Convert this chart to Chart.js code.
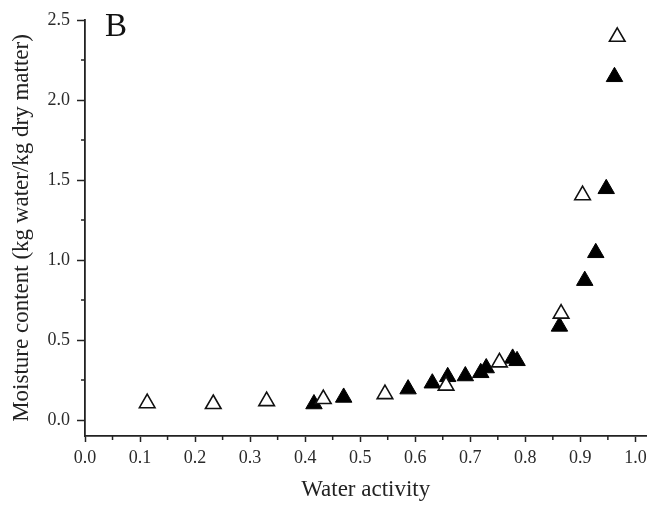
<!DOCTYPE html>
<html>
<head>
<meta charset="utf-8">
<script src="https://cdn.jsdelivr.net/npm/chart.js@4"></script>
<style>
  html, body { margin: 0; padding: 0; background: #fff; overflow: hidden; }
  #wrap { width: 657px; height: 508px; }
</style>
</head>
<body>
<div id="wrap"><canvas id="chart"></canvas></div>
<script>
// open triangles
const openX = [0.113, 0.233, 0.330, 0.433, 0.545, 0.656, 0.753, 0.865, 0.904, 0.967];
const openY = [0.105, 0.100, 0.118, 0.131, 0.162, 0.215, 0.360, 0.665, 1.405, 2.395];
// filled triangles
const fillX = [0.416, 0.470, 0.587, 0.631, 0.659, 0.691, 0.719, 0.729, 0.777, 0.785, 0.862, 0.908, 0.928, 0.947, 0.962];
const fillY = [0.100, 0.141, 0.193, 0.230, 0.270, 0.275, 0.295, 0.325, 0.385, 0.370, 0.585, 0.871, 1.045, 1.445, 2.145];

const xTicks = [0, 0.1, 0.2, 0.3, 0.4, 0.5, 0.6, 0.7, 0.8, 0.9, 1.0];
const xMinor = [0.05, 0.15, 0.25, 0.35, 0.45, 0.55, 0.65, 0.75, 0.85, 0.95];
const yTicks = [0, 0.5, 1.0, 1.5, 2.0, 2.5];
const yMinor = [0.25, 0.75, 1.25, 1.75, 2.25];

const pts = (xs, ys) => xs.map((x, i) => ({ x: x, y: ys[i] }));

const axisColor = '#222';
const font = 'Liberation Serif';

// petits traits secondaires + lettre du panneau
const extras = {
  id: 'extras',
  afterDraw(chart) {
    const ctx = chart.ctx;
    const xs = chart.scales.x, ys = chart.scales.y;
    const area = chart.chartArea;
    ctx.save();
    ctx.strokeStyle = axisColor;
    ctx.lineWidth = 1.5;
    ctx.beginPath();
    xMinor.forEach(v => {
      const px = xs.getPixelForValue(v);
      ctx.moveTo(px, area.bottom);
      ctx.lineTo(px, area.bottom + 4);
    });
    yMinor.forEach(v => {
      const py = ys.getPixelForValue(v);
      ctx.moveTo(area.left, py);
      ctx.lineTo(area.left - 4, py);
    });
    ctx.stroke();
    ctx.fillStyle = '#111';
    ctx.font = '33px "' + font + '"';
    ctx.textBaseline = 'alphabetic';
    ctx.textAlign = 'left';
    ctx.fillText('B', 105, 36);
    ctx.restore();
  }
};

new Chart(document.getElementById('chart'), {
  type: 'scatter',
  data: {
    datasets: [
      {
        label: 'open',
        data: pts(openX, openY),
        pointStyle: 'triangle',
        pointRadius: 9,
        backgroundColor: '#fff',
        borderColor: '#111',
        borderWidth: 1.6
      },
      {
        label: 'filled',
        data: pts(fillX, fillY),
        pointStyle: 'triangle',
        pointRadius: 9.5,
        backgroundColor: '#000',
        borderColor: '#000',
        borderWidth: 1
      }
    ]
  },
  options: {
    responsive: true,
    maintainAspectRatio: false,
    animation: false,
    layout: { padding: { top: 20, right: 0, left: 0, bottom: 0 } },
    plugins: {
      legend: { display: false },
      tooltip: { enabled: false }
    },
    scales: {
      x: {
        type: 'linear',
        min: 0,
        max: 1.02,
        afterBuildTicks: s => { s.ticks = xTicks.map(v => ({ value: v })); },
        afterFit: s => { s.height = 72; },
        grid: { drawOnChartArea: false, tickLength: 6, tickColor: axisColor, tickWidth: 1.5 },
        border: { color: axisColor, width: 1.8 },
        ticks: {
          color: '#2a2a2a',
          padding: 5,
          maxRotation: 0,
          font: { family: font, size: 18 },
          callback: v => v.toFixed(1)
        },
        title: {
          display: true,
          text: 'Water activity',
          color: '#222',
          font: { family: font, size: 23 },
          padding: { top: 3 }
        }
      },
      y: {
        type: 'linear',
        min: -0.1,
        max: 2.5,
        afterBuildTicks: s => { s.ticks = yTicks.map(v => ({ value: v })); },
        afterFit: s => { s.width = 85; },
        grid: { drawOnChartArea: false, tickLength: 8, tickColor: axisColor, tickWidth: 1.5 },
        border: { color: axisColor, width: 1.8 },
        ticks: {
          color: '#2a2a2a',
          padding: 7,
          font: { family: font, size: 18 },
          callback: v => v.toFixed(1)
        },
        title: {
          display: true,
          text: 'Moisture content (kg water/kg dry matter)',
          color: '#222',
          font: { family: font, size: 23 },
          padding: { top: 8, bottom: 0 }
        }
      }
    }
  },
  plugins: [extras]
});
</script>
</body>
</html>
